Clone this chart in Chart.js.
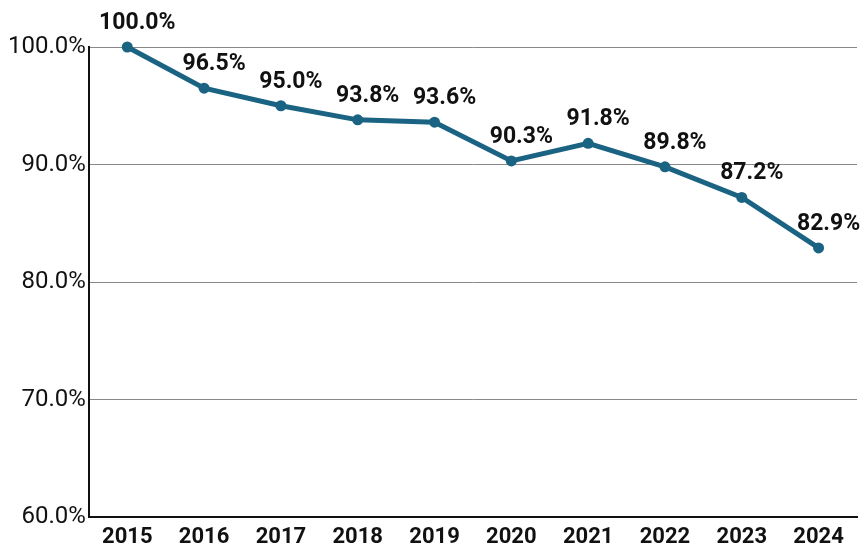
<!DOCTYPE html>
<html>
<head>
<meta charset="utf-8">
<script src="https://cdn.jsdelivr.net/npm/chart.js@4/dist/chart.umd.min.js"></script>
<style>
  html, body { margin: 0; padding: 0; background: #fff; }
  #wrap { width: 864px; height: 550px; }
</style>
</head>
<body>
<div id="wrap"><canvas id="rateChart"></canvas></div>
<script>
const years = ['2015', '2016', '2017', '2018', '2019', '2020', '2021', '2022', '2023', '2024'];
const rates = [100.0, 96.5, 95.0, 93.8, 93.6, 90.3, 91.8, 89.8, 87.2, 82.9];
const yTicks = [60, 70, 80, 90, 100];

// writes each point's value above it, nudged a little to the right
const valueLabels = {
    id: 'valueLabels',
    afterDatasetsDraw(chart) {
        const ctx = chart.ctx;
        const meta = chart.getDatasetMeta(0);
        ctx.save();
        ctx.font = 'bold 23px Roboto';
        ctx.fillStyle = '#111';
        ctx.textAlign = 'center';
        ctx.textBaseline = 'alphabetic';
        meta.data.forEach((pt, i) => {
            ctx.fillText(rates[i].toFixed(1) + '%', pt.x + 10, pt.y - 18);
        });
        ctx.restore();
    }
};

Chart.defaults.font.family = 'Roboto';
Chart.defaults.color = '#111';

new Chart(document.getElementById('rateChart').getContext('2d'), {
    type: 'line',
    data: {
        labels: years,
        datasets: [{
            data: rates,
            borderColor: '#1b6382',
            backgroundColor: '#1b6382',
            borderWidth: 5,
            pointRadius: 5.5,
            pointHoverRadius: 5.5,
            pointBorderWidth: 0,
            fill: false,
            tension: 0,
            clip: false
        }]
    },
    options: {
        responsive: true,
        maintainAspectRatio: false,
        animation: false,
        layout: { padding: { top: 47, right: 7, left: 5, bottom: 0 } },
        plugins: { legend: { display: false }, tooltip: { enabled: false } },
        scales: {
            x: {
                offset: true,
                afterFit(scale) { scale.height = 33; },
                grid: { display: false, drawTicks: false },
                border: { display: true, color: '#111', width: 2 },
                ticks: { font: { size: 22, weight: 'bold' }, padding: 7 }
            },
            y: {
                min: 60,
                max: 100,
                afterBuildTicks(axis) { axis.ticks = yTicks.map(v => ({ value: v })); },
                grid: { color: '#888', lineWidth: 1, drawTicks: false },
                border: { display: true, color: '#111', width: 2 },
                ticks: {
                    font: { size: 24 },
                    padding: 3,
                    callback: v => v.toFixed(1) + '%'
                }
            }
        }
    },
    plugins: [valueLabels]
});
</script>
</body>
</html>
